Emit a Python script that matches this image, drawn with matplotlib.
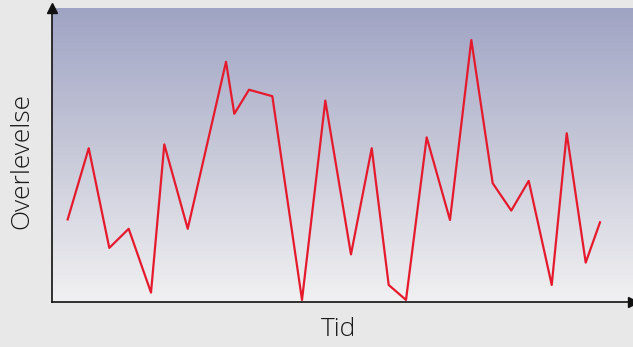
import numpy as np
import matplotlib
matplotlib.use("Agg")
import matplotlib.pyplot as plt
from matplotlib.colors import LinearSegmentedColormap

# Data (time, survival)
tid = [2.70, 6.32, 9.86, 13.20, 17.04, 19.33, 23.36, 29.95, 31.38, 33.91,
       37.92, 43.03, 47.04, 51.46, 55.03, 57.95, 60.93, 64.49, 68.50, 72.17,
       75.85, 79.05, 82.05, 86.01, 88.59, 91.86, 94.32]
overlevelse = [28.1, 52.3, 18.4, 24.9, 3.2, 53.6, 24.9, 81.7, 64.0, 72.2,
               70.0, 0.7, 68.5, 16.2, 52.3, 5.8, 0.7, 56.0, 27.9, 89.1,
               40.4, 31.1, 41.2, 5.8, 57.4, 13.4, 27.1]
x_label = "Tid"
y_label = "Overlevelse"

W, H = 633, 347
fig = plt.figure(figsize=(W / 100, H / 100), dpi=100)
fig.patch.set_facecolor("#e8e8e8")
ax = fig.add_axes([52 / W, 1 - 302 / H, (633 - 52) / W, (302 - 8) / H])
ax.set_xlim(0, 100)
ax.set_ylim(0, 100)

cmap = LinearSegmentedColormap.from_list("bg", ["#f1f1f2", "#c8cad9", "#a0a4c4"])
grad = np.linspace(0, 1, 256).reshape(-1, 1)
ax.imshow(grad, cmap=cmap, extent=[0, 100, 0, 100], origin="lower",
          aspect="auto", zorder=0)

ax.plot(tid, overlevelse, color="#e61a2d", lw=1.6, zorder=2, clip_on=False)

for s in ["top", "right"]:
    ax.spines[s].set_visible(False)
for s in ["left", "bottom"]:
    ax.spines[s].set_color("#111111")
    ax.spines[s].set_linewidth(1.2)
ax.set_xticks([])
ax.set_yticks([])
ax.plot(1, 0, ">", color="#111111", ms=7, transform=ax.get_yaxis_transform(), clip_on=False)
ax.plot(0, 1, "^", color="#111111", ms=7, transform=ax.get_xaxis_transform(), clip_on=False)

fig.text(339 / W, 1 - 329 / H, x_label, ha="center", va="center",
         fontsize=19, family="Open Sans", fontweight="light", color="#1a1a1a")
fig.text(22 / W, 1 - 161 / H, y_label, ha="center", va="center", rotation=90,
         fontsize=19, family="Open Sans", fontweight="light", color="#1a1a1a")

fig.savefig("out.png", dpi=100, facecolor=fig.get_facecolor())
